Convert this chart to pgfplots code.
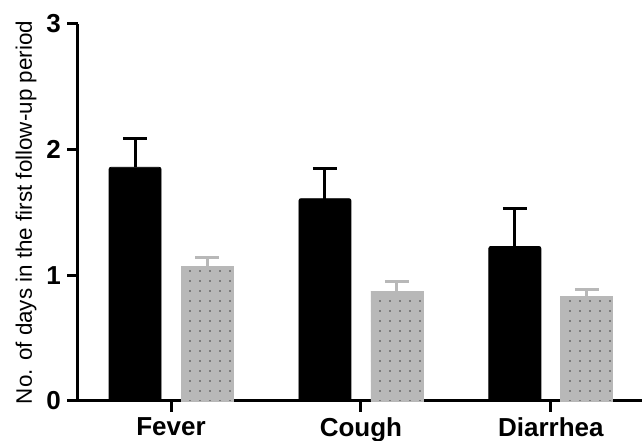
\documentclass[border=0pt]{standalone}
\usepackage{pgfplots}
\pgfplotsset{compat=1.18}
\usetikzlibrary{patterns.meta}
\usepackage{fontspec}
\setmainfont{Liberation Sans}
\pgfplotstableread{
x y e
0 1.86 0.23
1 1.61 0.24
2 1.23 0.30
}\blackdata
\pgfplotstableread{
x y e
0 1.07 0.07
1 0.875 0.075
2 0.83 0.06
}\greydata
\begin{document}
\begin{tikzpicture}
\begin{axis}[
  scale only axis, width=282pt, height=188.5pt,
  xmin=-0.49, xmax=2.48, ymin=0, ymax=3,
  axis lines*=left,
  axis line style={line width=1.5pt},
  xtick={0,1,2}, xticklabels={Fever,Cough,Diarrhea},
  ytick={0,1,2,3},
  tick style={line width=1.5pt, black},
  major tick length=5.5pt, tick align=outside,
  tick label style={font=\bfseries\fontsize{13}{15}\selectfont},
  xticklabel style={yshift=0.5pt},
  yticklabel style={xshift=0.5pt},
  /pgf/number format/assume math mode=true,
  ylabel={No. of days in the first follow-up period},
  ylabel style={font=\fontsize{11.2}{13}\selectfont,
    at={(axis description cs:-0.092,0.5)}, anchor=center},
  ybar, bar width=26pt,
  clip=false,
]
\addplot[fill=black, draw=black, rounded corners=1pt, bar shift=-18pt,
  error bars/.cd, y dir=plus, y explicit,
  error bar style={line width=1.5pt, black, sharp corners},
  error mark options={rotate=90, mark size=6pt, line width=1.5pt, black}]
  table[x=x, y=y, y error=e] {\blackdata};
\addplot[fill=black!28, draw=black!28, bar shift=18pt,
  postaction={pattern={Dots[distance=5pt, radius=0.45pt]}, pattern color=black!75},
  error bars/.cd, y dir=plus, y explicit,
  error bar style={line width=1.5pt, black!28, sharp corners},
  error mark options={rotate=90, mark size=6pt, line width=1.5pt, black!28}]
  table[x=x, y=y, y error=e] {\greydata};
\end{axis}
\pgfresetboundingbox
\path[use as bounding box] ([xshift=-39pt,yshift=-20pt]current axis.south west) rectangle ([yshift=12pt]current axis.north east);
\end{tikzpicture}
\end{document}
